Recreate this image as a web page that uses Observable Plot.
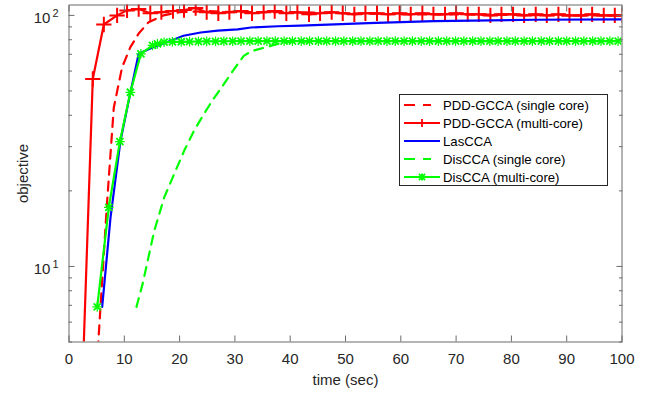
<!DOCTYPE html>
<html><head><meta charset="utf-8">
<script src="https://cdn.jsdelivr.net/npm/d3@7"></script>
<script src="https://cdn.jsdelivr.net/npm/@observablehq/plot@0.6"></script>
<style>
html,body{margin:0;padding:0;background:#fff;}
#wrap{position:relative;width:657px;height:394px;font-family:"Liberation Sans",Arial,sans-serif;}
#legend{position:absolute;left:399px;top:94px;width:209px;height:92px;border:1px solid #262626;background:#fff;box-sizing:border-box;padding-top:1px;}
.row{display:flex;align-items:center;height:18px;font-size:13.2px;color:#000;white-space:nowrap;}
.row svg{display:block;margin-left:4px;margin-right:3px;}
</style></head><body><div id="wrap"></div>
<script>
// ---- data ----
const xTicks = [0, 10, 20, 30, 40, 50, 60, 70, 80, 90, 100];
const yMajor = [10, 100];
const yMajorBase = {10: "10", 100: "10"};
const yMajorExp = {10: "1", 100: "2"};
const yMinor = [5, 6, 7, 8, 9, 20, 30, 40, 50, 60, 70, 80, 90];

const seriesNames = ["PDD-GCCA (single core)", "PDD-GCCA (multi-core)", "LasCCA", "DisCCA (single core)", "DisCCA (multi-core)"];

const pddSingleT = [5.1, 5.3, 6.9, 8.1, 9.6, 11.1, 12.6, 14.4, 17.1, 20, 25, 30, 40, 50, 60, 70, 80, 90, 100];
const pddSingleV = [4.0, 5.0, 18.2, 42.9, 62.1, 74.7, 84.7, 94, 100, 103, 104, 103, 103, 102, 101, 101, 100.5, 100, 100];

const pddMultiT = [2.4, 4.3, 6.3, 8.7, 10.5, 12.6, 14.7, 16.7, 18.8, 20.8, 22.9, 24.9, 27.0, 29.0, 31.1, 33.1, 35.2, 37.2, 39.3, 41.3, 43.4, 45.4, 47.5, 49.5, 51.6, 53.6, 55.7, 57.7, 59.8, 61.8, 63.9, 65.9, 68.0, 70.0, 72.1, 74.1, 76.2, 78.2, 80.3, 82.3, 84.4, 86.4, 88.5, 90.5, 92.6, 94.6, 96.7, 98.7, 100];
const pddMultiV = [3.3, 55.8, 92, 100, 104.7, 106, 102, 103, 104, 105, 107, 103, 102, 103, 104, 102, 103, 104, 102, 103, 101, 102, 103, 102, 101, 102, 102, 101, 102, 101, 102, 101, 101, 102, 101, 101, 100, 101, 101, 100, 101, 100, 101, 100, 100, 101, 100, 100, 100];

const lasT = [6.0, 7.5, 9.3, 10.8, 12.6, 14.8, 18.3, 20.7, 23.8, 26.9, 30.5, 32.9, 37.8, 41.9, 54.1, 66.0, 84.1, 100];
const lasV = [6.9, 15.6, 31.6, 45.7, 70.3, 74, 79, 83, 85.5, 87, 88, 89.5, 90.5, 91, 93.2, 94.9, 96.1, 96.4];

const disSingleT = [12.2, 13.3, 15.4, 17.2, 19.0, 20.8, 22.6, 24.4, 25.9, 27.8, 29.6, 31.6, 33.0, 35.9, 38.3, 40, 50, 60, 70, 80, 90, 100];
const disSingleV = [6.9, 8.5, 13.8, 18.8, 23.3, 28.8, 34.7, 40.5, 45.7, 52.5, 60, 69, 72, 75, 77.5, 78.5, 79, 79, 79, 79, 79, 79];

const disMultiT = [5.1, 7.2, 9.2, 11.1, 13.0, 15.1, 16.0, 17.2, 18.7, 20.3, 21.8, 23.4, 24.9, 26.5, 28.0, 29.6, 31.1, 32.7, 34.2, 35.8, 37.3, 38.9, 40.4, 42.0, 43.5, 45.1, 46.6, 48.2, 49.7, 51.3, 52.8, 54.4, 55.9, 57.5, 59.0, 60.6, 62.1, 63.7, 65.2, 66.8, 68.3, 69.9, 71.4, 73.0, 74.5, 76.1, 77.6, 79.2, 80.7, 82.3, 83.8, 85.4, 86.9, 88.5, 90.0, 91.6, 93.1, 94.7, 96.2, 97.8, 99.3];
const disMultiV = [6.9, 17.2, 31.4, 49.4, 70.3, 75.9, 77, 78.2, 78.5, 78.5, 78.6, 78.7, 78.8, 78.8, 78.9, 78.9, 79, 79, 79, 79, 79, 79, 79, 79, 79, 79, 79, 79, 79, 79, 79, 79, 79, 79, 79, 79, 79, 79, 79, 79, 79, 79, 79, 79, 79, 79, 79, 79, 79, 79, 79, 79, 79, 79, 79, 79, 79, 79, 79, 79, 79];

// ---- build tables ----
const rows = (T, V) => T.map((t, i) => ({t, v: V[i]}));
const pddSingle = rows(pddSingleT, pddSingleV);
const pddMulti = rows(pddMultiT, pddMultiV);
const las = rows(lasT, lasV);
const disSingle = rows(disSingleT, disSingleV);
const disMulti = rows(disMultiT, disMultiV);

const RED = "#ff0000", BLUE = "#0000ff", GREEN = "#00ff00";
const DASH = "9,7";
const LW = 2.2;
const tickCol = "#6b6b6b";
const textCol = "#262626";
const FS = 15;

const chart = Plot.plot({
  width: 657,
  height: 394,
  marginLeft: 68.5,
  marginRight: 35.5,
  marginTop: 4.5,
  marginBottom: 52.5,
  style: {fontFamily: '"Liberation Sans", Arial, sans-serif', fontSize: FS + "px", color: textCol, background: "#fff"},
  x: {domain: [0, 100], axis: null},
  y: {type: "log", domain: [5, 110], axis: null},
  marks: [
    // data
    Plot.line(pddSingle, {x: "t", y: "v", stroke: RED, strokeWidth: LW, strokeDasharray: DASH, clip: true}),
    Plot.line(pddMulti, {x: "t", y: "v", stroke: RED, strokeWidth: LW, clip: true}),
    Plot.dot(pddMulti, {x: "t", y: "v", symbol: "plus", r: 5, stroke: RED, strokeWidth: 2, clip: true}),
    Plot.line(las, {x: "t", y: "v", stroke: BLUE, strokeWidth: LW, clip: true}),
    Plot.line(disSingle, {x: "t", y: "v", stroke: GREEN, strokeWidth: LW, strokeDasharray: DASH, clip: true}),
    Plot.line(disMulti, {x: "t", y: "v", stroke: GREEN, strokeWidth: LW, clip: true}),
    Plot.dot(disMulti, {x: "t", y: "v", symbol: "times", r: 3.3, stroke: GREEN, strokeWidth: 1.8, clip: true}),
    Plot.dot(disMulti, {x: "t", y: "v", symbol: "plus", r: 3.2, stroke: GREEN, strokeWidth: 1.2, clip: true}),
    // frame and inward ticks
    Plot.frame({stroke: tickCol, strokeWidth: 1}),
    Plot.axisX(xTicks, {anchor: "bottom", tickSize: -6, tickFormat: () => "", color: tickCol, label: null}),
    Plot.axisX(xTicks, {anchor: "top", tickSize: -6, tickFormat: () => "", color: tickCol, label: null}),
    Plot.axisY(yMajor, {anchor: "left", tickSize: -6, tickFormat: () => "", color: tickCol, label: null}),
    Plot.axisY(yMajor, {anchor: "right", tickSize: -6, tickFormat: () => "", color: tickCol, label: null}),
    Plot.axisY(yMinor, {anchor: "left", tickSize: -3.5, tickFormat: () => "", color: tickCol, label: null}),
    Plot.axisY(yMinor, {anchor: "right", tickSize: -3.5, tickFormat: () => "", color: tickCol, label: null}),
    // tick labels
    Plot.axisX(xTicks, {anchor: "bottom", tickSize: 0, tickPadding: 11, tickFormat: d => String(d), label: null, color: textCol}),
    Plot.axisY(yMajor, {anchor: "left", tickSize: 0, tickPadding: 10.5, tickFormat: d => yMajorBase[d] + "^" + yMajorExp[d], label: null, color: textCol, dy: 3, className: "ylab"}),
    // axis titles
    Plot.text(["time (sec)"], {frameAnchor: "bottom", dy: 38, lineAnchor: "middle", textAnchor: "middle", fontSize: FS, fill: textCol}),
    Plot.text(["objective"], {frameAnchor: "left", dx: -46, rotate: -90, textAnchor: "middle", lineAnchor: "middle", fontSize: FS, fill: textCol})
  ]
});

// render "10^2" as base + raised exponent
chart.querySelectorAll("text").forEach(t => {
  const s = t.textContent;
  const m = /^(\d+)\^(\d+)$/.exec(s);
  if (!m) return;
  t.textContent = "";
  const b = document.createElementNS("http://www.w3.org/2000/svg", "tspan");
  b.textContent = m[1];
  const e = document.createElementNS("http://www.w3.org/2000/svg", "tspan");
  e.textContent = m[2];
  e.setAttribute("dx", "2");
  e.setAttribute("dy", "-6");
  e.setAttribute("font-size", "11");
  t.appendChild(b); t.appendChild(e);
});

const wrap = document.getElementById("wrap");
wrap.appendChild(chart);

// ---- legend ----
const legendSpecs = [
  {name: seriesNames[0], color: RED, dash: "11,8,8,40", mark: null},
  {name: seriesNames[1], color: RED, dash: null, mark: "plus"},
  {name: seriesNames[2], color: BLUE, dash: null, mark: null},
  {name: seriesNames[3], color: GREEN, dash: "11,8,8,40", mark: null},
  {name: seriesNames[4], color: GREEN, dash: null, mark: "star"}
];
const legend = document.createElement("div");
legend.id = "legend";
const NS = "http://www.w3.org/2000/svg";
for (const s of legendSpecs) {
  const row = document.createElement("div");
  row.className = "row";
  const svg = document.createElementNS(NS, "svg");
  svg.setAttribute("width", 36); svg.setAttribute("height", 18);
  const ln = document.createElementNS(NS, "line");
  ln.setAttribute("x1", 0); ln.setAttribute("x2", 36); ln.setAttribute("y1", 9); ln.setAttribute("y2", 9);
  ln.setAttribute("stroke", s.color); ln.setAttribute("stroke-width", LW);
  if (s.dash) ln.setAttribute("stroke-dasharray", s.dash);
  svg.appendChild(ln);
  if (s.mark) {
    const p = document.createElementNS(NS, "path");
    const a = s.mark === "plus" ? 4 : 3.4;
    let d = `M18,${9 - a}V${9 + a}M${18 - a},9H${18 + a}`;
    if (s.mark === "star") { const b = a * 0.9; d += `M${18 - b},${9 - b}L${18 + b},${9 + b}M${18 - b},${9 + b}L${18 + b},${9 - b}`; }
    p.setAttribute("d", d); p.setAttribute("stroke", s.color); p.setAttribute("stroke-width", 1.8); p.setAttribute("fill", "none");
    svg.appendChild(p);
  }
  row.appendChild(svg);
  const span = document.createElement("span");
  span.textContent = s.name;
  row.appendChild(span);
  legend.appendChild(row);
}
wrap.appendChild(legend);
</script></body></html>
